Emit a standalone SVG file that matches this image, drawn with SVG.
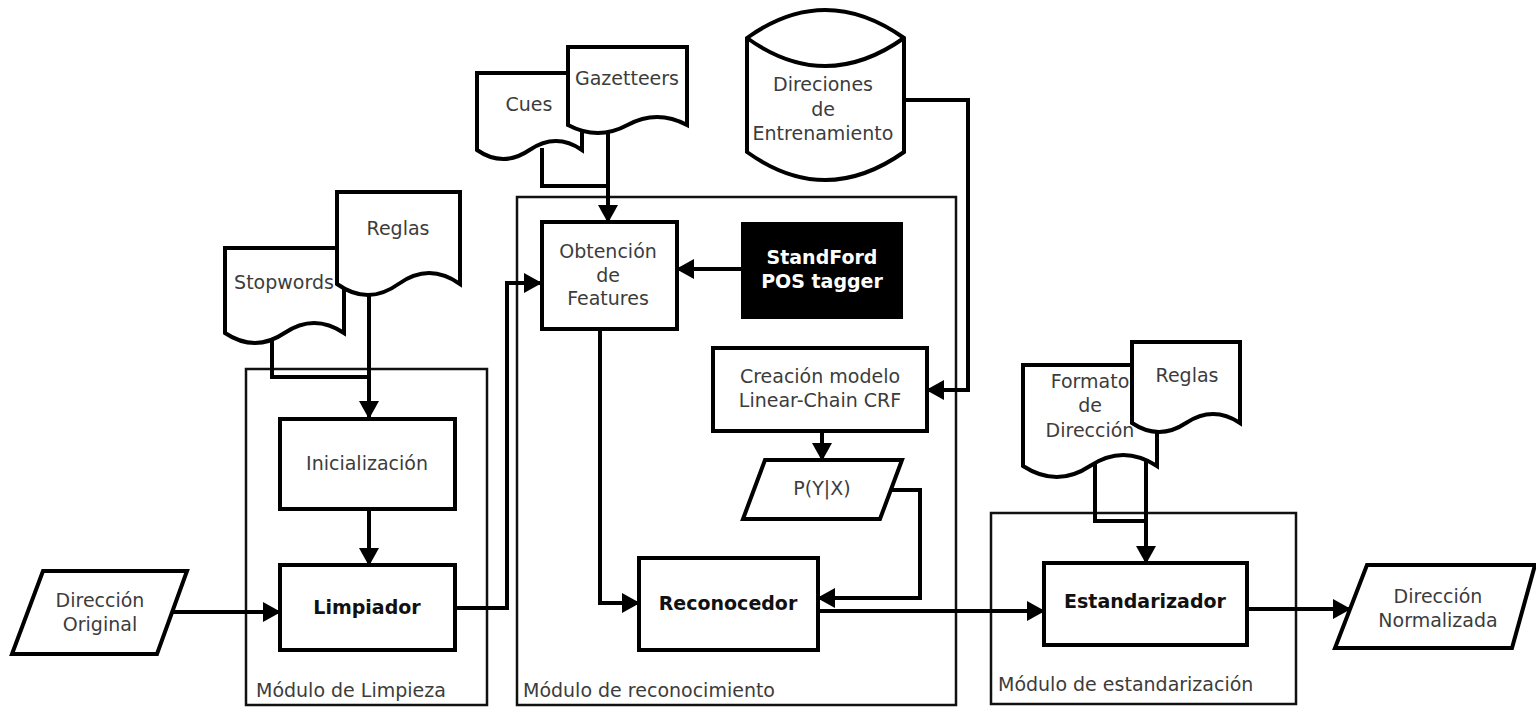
<svg xmlns="http://www.w3.org/2000/svg" width="1536" height="708" viewBox="0 0 1536 708">
<defs>
<style>
.mod{fill:none;stroke:#111;stroke-width:2.5}
.nd{fill:#fff;stroke:#000;stroke-width:4;stroke-linejoin:miter}
.blk{fill:#000;stroke:#000;stroke-width:4}
.cn{fill:none;stroke:#000;stroke-width:4;stroke-linejoin:miter}
.ar{marker-end:url(#ah)}
text{font-family:"DejaVu Sans","Noto Sans",sans-serif;font-size:19px;fill:#3c3c3c}
.c{text-anchor:middle}
.b{font-weight:bold;fill:#111}
.w{font-weight:bold;fill:#fff}
</style>
<marker id="ah" viewBox="0 0 18 20" refX="17" refY="10" markerWidth="18" markerHeight="20" markerUnits="userSpaceOnUse" orient="auto">
<path d="M0,0 L18,10 L0,20 Z" fill="#000"/>
</marker>
</defs>
<rect width="1536" height="708" fill="#fff"/>

<g id="modulo-limpieza">
<rect class="mod" x="246" y="369" width="241" height="336"/>
<text x="256" y="697">Módulo de Limpieza</text>
</g>
<g id="modulo-reconocimiento">
<rect class="mod" x="517" y="197" width="439" height="508"/>
<text x="523" y="697">Módulo de reconocimiento</text>
</g>
<g id="modulo-estandarizacion">
<rect class="mod" x="991" y="513" width="305" height="191"/>
<text x="998" y="691">Módulo de estandarización</text>
</g>

<g id="connectors">
<path class="cn ar" d="M369,285 V418"/>
<path class="cn" d="M272,335 V377 H369"/>
<path class="cn ar" d="M369,510 V565"/>
<path class="cn ar" d="M172,612 H280"/>
<path class="cn ar" d="M455,608 H507 V283 H541"/>
<path class="cn" d="M542,148 V186 H608"/>
<path class="cn ar" d="M608,125 V222"/>
<path class="cn ar" d="M742,269 H677"/>
<path class="cn ar" d="M600,329 V603 H639"/>
<path class="cn ar" d="M904,100 H968 V390 H927"/>
<path class="cn ar" d="M822,431 V460"/>
<path class="cn ar" d="M891,490 H920 V598 H818"/>
<path class="cn ar" d="M818,611 H1044"/>
<path class="cn" d="M1095,462 V521 H1146"/>
<path class="cn ar" d="M1146,425 V563"/>
<path class="cn ar" d="M1247,609 H1350"/>
</g>

<g id="stopwords">
<path class="nd" d="M225,248 H344 V333 Q314,313 284.5,333 T225,333 Z"/>
<text class="c" x="284" y="289">Stopwords</text>
</g>
<g id="reglas-limpieza">
<path class="nd" d="M337,192 H460 V284 Q429,262 398.5,284 T337,284 Z"/>
<text class="c" x="398" y="235">Reglas</text>
</g>
<g id="cues">
<path class="nd" d="M477,73 H582 V150 Q556,132 529.5,150 T477,150 Z"/>
<text class="c" x="529" y="111">Cues</text>
</g>
<g id="gazetteers">
<path class="nd" d="M568,47 H687 V125 Q657,109 627.5,125 T568,125 Z"/>
<text class="c" x="627" y="85">Gazetteers</text>
</g>
<g id="direciones-entrenamiento">
<path class="nd" d="M747,38 Q825,-18 904,38 V152 Q825,208 747,152 Z"/>
<path class="nd" fill="none" d="M747,38 Q825,94 904,38"/>
<text class="c" x="823" y="91">Direciones</text>
<text class="c" x="823" y="116">de</text>
<text class="c" x="823" y="140">Entrenamiento</text>
</g>
<g id="obtencion-features">
<rect class="nd" x="542" y="222" width="135" height="107"/>
<text class="c" x="608" y="258">Obtención</text>
<text class="c" x="608" y="282">de</text>
<text class="c" x="608" y="305">Features</text>
</g>
<g id="standford-pos">
<rect class="blk" x="743" y="224" width="158" height="93"/>
<text class="c w" x="822" y="264">StandFord</text>
<text class="c w" x="822" y="288">POS tagger</text>
</g>
<g id="creacion-modelo">
<rect class="nd" x="713" y="348" width="214" height="83"/>
<text class="c" x="820" y="383">Creación modelo</text>
<text class="c" x="820" y="407">Linear-Chain CRF</text>
</g>
<g id="pyx">
<path class="nd" d="M765,460 H902 L880,519 H743 Z"/>
<text class="c" x="822" y="495">P(Y|X)</text>
</g>
<g id="inicializacion">
<rect class="nd" x="280" y="419" width="175" height="90"/>
<text class="c" x="367" y="470">Inicialización</text>
</g>
<g id="limpiador">
<rect class="nd" x="280" y="565" width="175" height="85"/>
<text class="c b" x="367" y="614">Limpiador</text>
</g>
<g id="direccion-original">
<path class="nd" d="M43,571 H187 L157,654 H12 Z"/>
<text class="c" x="100" y="607">Dirección</text>
<text class="c" x="100" y="631">Original</text>
</g>
<g id="reconocedor">
<rect class="nd" x="639" y="558" width="179" height="92"/>
<text class="c b" x="728" y="610">Reconocedor</text>
</g>
<g id="formato-direccion">
<path class="nd" d="M1023,365 H1157 V466 Q1123,444 1090,466 T1023,466 Z"/>
<text class="c" x="1090" y="388">Formato</text>
<text class="c" x="1090" y="412">de</text>
<text class="c" x="1090" y="437">Dirección</text>
</g>
<g id="reglas-estandarizacion">
<path class="nd" d="M1132,342 H1240 V423 Q1213,405 1186,423 T1132,423 Z"/>
<text class="c" x="1187" y="382">Reglas</text>
</g>
<g id="estandarizador">
<rect class="nd" x="1044" y="563" width="203" height="82"/>
<text class="c b" x="1145" y="608">Estandarizador</text>
</g>
<g id="direccion-normalizada">
<path class="nd" d="M1367,565 H1535 L1512,648 H1335 Z"/>
<text class="c" x="1438" y="603">Dirección</text>
<text class="c" x="1438" y="627">Normalizada</text>
</g>
</svg>
